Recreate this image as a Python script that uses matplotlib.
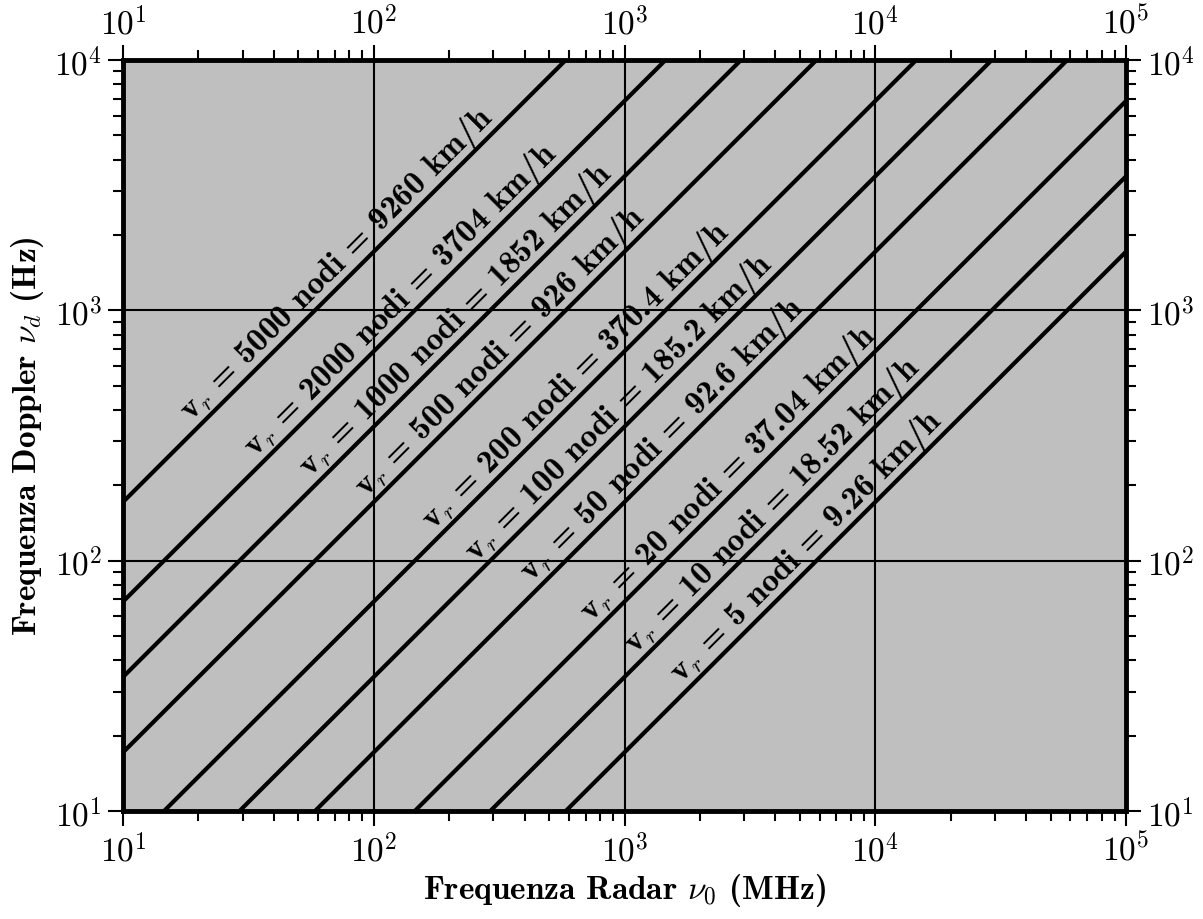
import matplotlib
matplotlib.use("Agg")
import matplotlib.pyplot as plt
import matplotlib.transforms as mtransforms
from matplotlib.ticker import LogLocator, NullFormatter, FuncFormatter
import numpy as np

# ---- data ----
speeds_knots = [5000, 2000, 1000, 500, 200, 100, 50, 20, 10, 5]
speeds_kmh = ["9260", "3704", "1852", "926", "370.4", "185.2", "92.6", "37.04", "18.52", "9.26"]
radar_freq_mhz = [10, 1e5]          # x extent of each line (MHz)
knot_to_ms = 1852.0 / 3600.0
c_light = 3e8

# label anchor positions (layout only, pixel columns)
label_x_px = [191, 255, 310, 366, 433, 476, 531, 591, 635, 681]

plt.rcParams['mathtext.fontset'] = 'cm'
plt.rcParams['font.family'] = ['cmb10', 'DejaVu Serif']
plt.rcParams['axes.unicode_minus'] = False

fig = plt.figure(figsize=(12.03, 9.2), dpi=100)
L, R, T, B = 123, 1126, 61, 812
W, H = 1203, 920
ax = fig.add_axes([L / W, (H - B) / H, (R - L) / W, (B - T) / H])
ax.set_facecolor('#bfbfbf')
ax.set_xscale('log')
ax.set_yscale('log')
ax.set_xlim(10, 1e5)
ax.set_ylim(10, 1e4)

x = np.array(radar_freq_mhz)
for v, kmh, lx_px in zip(speeds_knots, speeds_kmh, label_x_px):
    fd = 2 * v * knot_to_ms * x * 1e6 / c_light
    ax.plot(x, fd, color='black', lw=3.0, solid_capstyle='butt', zorder=3)
    lx = 10 ** (1 + (lx_px - L) / ((R - L) / 4))
    ly = 2 * v * knot_to_ms * lx * 1e6 / c_light
    tr = mtransforms.offset_copy(ax.transData, fig=fig, x=0, y=13, units='dots')
    ax.text(lx, ly, r'$\mathbf{v}_r$ = %d nodi = %s km/h' % (v, kmh),
            transform=tr, rotation=45, rotation_mode='anchor',
            ha='left', va='baseline', fontsize=24, zorder=4, clip_on=True)

ax.grid(True, which='major', color='black', lw=1.5, zorder=2)
ax.set_axisbelow(False)
for s in ax.spines.values():
    s.set_linewidth(3.5)
    s.set_zorder(5)

fmt = FuncFormatter(lambda val, pos: r'$10^{%d}$' % int(round(np.log10(val))))
ax.xaxis.set_major_formatter(fmt)
ax.yaxis.set_major_formatter(fmt)

ax.tick_params(which='both', direction='out', top=True, right=True,
               labeltop=True, labelright=True, width=1.5, labelsize=24,
               colors='black')
ax.tick_params(which='major', length=11, pad=4)
ax.tick_params(which='minor', length=7)
ax.xaxis.set_minor_locator(LogLocator(base=10, subs=np.arange(2, 10), numticks=20))
ax.yaxis.set_minor_locator(LogLocator(base=10, subs=np.arange(2, 10), numticks=20))
ax.xaxis.set_minor_formatter(NullFormatter())
ax.yaxis.set_minor_formatter(NullFormatter())

ax.set_xlabel(r'Frequenza Radar $\nu_0$ (MHz)', fontsize=24, labelpad=3)
ax.set_ylabel(r'Frequenza Doppler $\nu_d$ (Hz)', fontsize=24, labelpad=6)

fig.savefig('out.png', dpi=100)
